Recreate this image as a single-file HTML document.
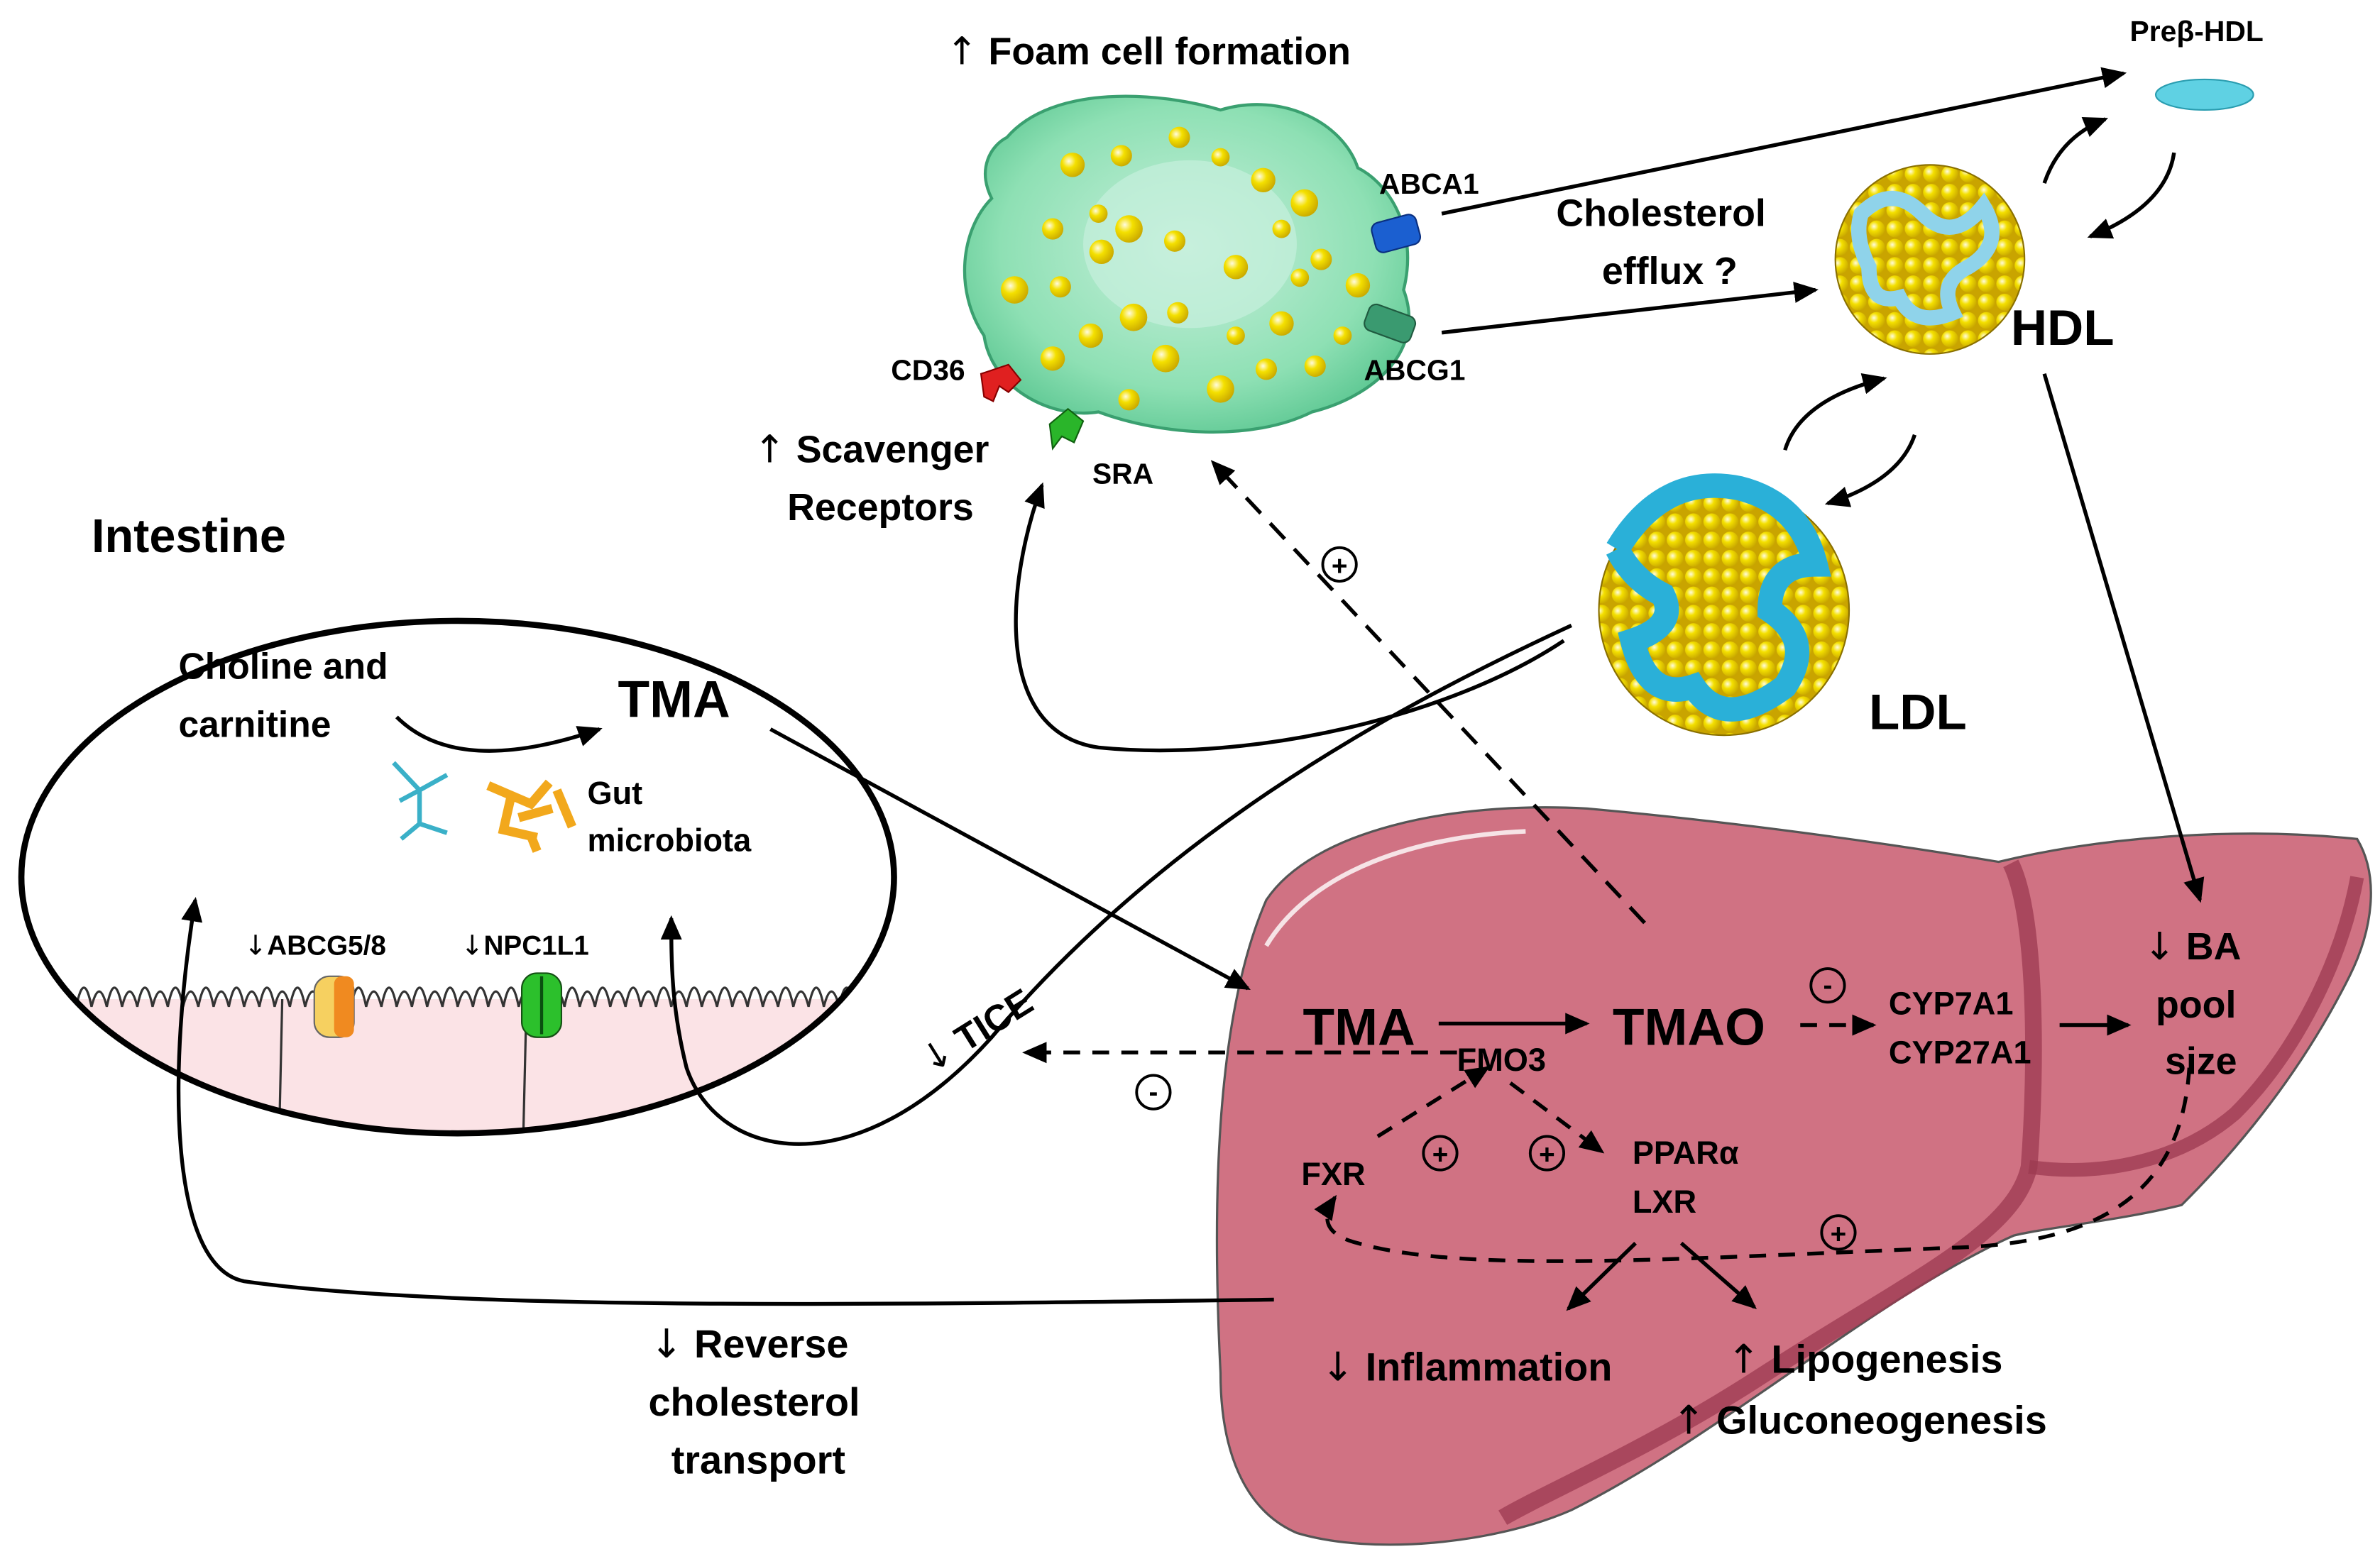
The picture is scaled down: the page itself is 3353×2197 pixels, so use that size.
<!DOCTYPE html>
<html><head><meta charset="utf-8"><style>
html,body{margin:0;padding:0;background:#fff;}
svg{display:block;}
text{font-family:"Liberation Sans",sans-serif;font-weight:bold;fill:#000;}
.ar{font-family:"DejaVu Sans",sans-serif;font-weight:normal;}
</style></head><body>
<svg width="3353" height="2197" viewBox="0 0 1560 1022" xmlns="http://www.w3.org/2000/svg">
<defs>
<marker id="a" markerWidth="16" markerHeight="14" refX="14" refY="7" orient="auto" markerUnits="userSpaceOnUse"><path d="M0,0 L16,7 L0,14 z" fill="#000"/></marker>
<radialGradient id="yb" cx="0.35" cy="0.35" r="0.7"><stop offset="0" stop-color="#fffbe0"/><stop offset="0.4" stop-color="#f4e000"/><stop offset="1" stop-color="#c9a800"/></radialGradient>
<radialGradient id="gc" cx="0.5" cy="0.45" r="0.6"><stop offset="0" stop-color="#c8f0dc"/><stop offset="0.7" stop-color="#8ee0b4"/><stop offset="1" stop-color="#5cc792"/></radialGradient>
<pattern id="gold" width="12" height="12" patternUnits="userSpaceOnUse"><rect width="12" height="12" fill="#c9a400"/><circle cx="6" cy="6" r="5.5" fill="url(#yb)"/></pattern>
</defs>

<!-- Liver (drawn first) -->
<path d="M830,590 C860,545 950,525 1040,530 C1150,540 1250,555 1310,565 C1380,548 1470,542 1545,550 C1560,575 1555,610 1540,640 C1510,700 1470,750 1430,790 C1390,800 1340,805 1320,810 C1230,850 1130,940 1030,990 C980,1012 900,1020 850,1005 C815,990 800,950 800,900 C795,800 795,670 830,590 Z" fill="#d07283" stroke="#555" stroke-width="1.5"/>
<path d="M1318,566 C1335,600 1335,700 1330,765 C1320,810 1250,840 1150,905 C1080,950 1010,980 985,995" fill="none" stroke="#9c3a50" stroke-width="11" opacity="0.75"/>
<path d="M1330,765 C1380,772 1430,760 1465,730 C1505,690 1535,630 1545,575" fill="none" stroke="#9c3a50" stroke-width="9" opacity="0.75"/>
<path d="M830,620 C860,570 930,548 1000,545" fill="none" stroke="#fff" stroke-width="3" opacity="0.8"/>

<!-- Foam cell -->
<path d="M660,90 C690,55 760,60 800,72 C840,60 880,80 890,110 C910,120 930,150 920,190 C935,230 900,260 860,270 C820,290 760,285 720,270 C690,275 650,255 645,220 C625,190 630,150 650,130 C640,110 650,95 660,90 Z" fill="url(#gc)" stroke="#3aa070" stroke-width="2"/>
<ellipse cx="780" cy="160" rx="70" ry="55" fill="#c6f0dd" opacity="0.7"/>
<g fill="url(#yb)">
<circle cx="703" cy="108" r="8"/><circle cx="735" cy="102" r="7"/><circle cx="773" cy="90" r="7"/><circle cx="800" cy="103" r="6"/><circle cx="828" cy="118" r="8"/><circle cx="855" cy="133" r="9"/><circle cx="690" cy="150" r="7"/><circle cx="720" cy="140" r="6"/><circle cx="740" cy="150" r="9"/><circle cx="722" cy="165" r="8"/><circle cx="770" cy="158" r="7"/><circle cx="810" cy="175" r="8"/><circle cx="840" cy="150" r="6"/><circle cx="866" cy="170" r="7"/><circle cx="852" cy="182" r="6"/><circle cx="890" cy="187" r="8"/><circle cx="665" cy="190" r="9"/><circle cx="695" cy="188" r="7"/><circle cx="743" cy="208" r="9"/><circle cx="772" cy="205" r="7"/><circle cx="715" cy="220" r="8"/><circle cx="840" cy="212" r="8"/><circle cx="810" cy="220" r="6"/><circle cx="690" cy="235" r="8"/><circle cx="764" cy="235" r="9"/><circle cx="800" cy="255" r="9"/><circle cx="830" cy="242" r="7"/><circle cx="880" cy="220" r="6"/><circle cx="740" cy="262" r="7"/><circle cx="862" cy="240" r="7"/>
</g>
<rect x="900" y="143" width="30" height="20" rx="5" fill="#1b5fd0" stroke="#0a2f80" transform="rotate(-15 915 153)"/>
<rect x="895" y="203" width="32" height="18" rx="5" fill="#3a9a70" stroke="#205a40" transform="rotate(20 911 212)"/>
<path d="M643,245 l18,-6 l8,10 l-8,8 l-6,-4 l-4,10 l-6,-3 z" fill="#e02020" stroke="#800"/>
<path d="M688,278 l12,-10 l10,8 l-6,14 l-8,-4 l-6,8 z" fill="#2ab52a" stroke="#106010"/>

<text x="620" y="42" font-size="25"><tspan class="ar">↑</tspan> Foam cell formation</text>
<text x="904" y="127" font-size="19">ABCA1</text>
<text x="894" y="249" font-size="19">ABCG1</text>
<text x="584" y="249" font-size="19">CD36</text>
<text x="716" y="317" font-size="19">SRA</text>
<text x="494" y="303" font-size="25"><tspan class="ar">↑</tspan> Scavenger</text>
<text x="516" y="341" font-size="25">Receptors</text>

<text x="1396" y="27" font-size="19">Preβ-HDL</text>
<ellipse cx="1445" cy="62" rx="32" ry="10" fill="#5fd1e3" stroke="#2a9db0"/>
<circle cx="1265" cy="170" r="62" fill="url(#gold)" stroke="#8a7000"/>
<path d="M1220,140 q20,-20 40,0 q20,20 40,-5 q15,25 -10,40 q-20,10 -10,30 q-25,10 -35,-10 q-20,5 -20,-20 q-10,-20 -5,-35z" fill="none" stroke="#8fd3ea" stroke-width="10"/>
<text x="1318" y="226" font-size="33">HDL</text>
<circle cx="1130" cy="400" r="82" fill="url(#gold)" stroke="#8a7000"/>
<path d="M1060,360 q30,-50 80,-40 q40,10 50,50 q-30,0 -30,30 q30,20 10,50 q-40,30 -60,0 q-30,10 -40,-30 q30,-10 20,-30 q-20,-10 -30,-30" fill="none" stroke="#2ab0d8" stroke-width="16"/>
<text x="1225" y="478" font-size="33">LDL</text>

<text x="1020" y="148" font-size="25">Cholesterol</text>
<text x="1050" y="186" font-size="25">efflux ?</text>

<text x="854" y="685" font-size="34">TMA</text>
<text x="1057" y="685" font-size="34">TMAO</text>
<text x="955" y="702" font-size="21">FMO3</text>
<text x="1238" y="665" font-size="21">CYP7A1</text>
<text x="1238" y="697" font-size="21">CYP27A1</text>
<text x="1405" y="629" font-size="25"><tspan class="ar">↓</tspan> BA</text>
<text x="1413" y="667" font-size="25">pool</text>
<text x="1419" y="704" font-size="25">size</text>
<text x="853" y="777" font-size="21">FXR</text>
<text x="1070" y="763" font-size="21">PPARα</text>
<text x="1070" y="795" font-size="21">LXR</text>
<text x="866" y="905" font-size="26"><tspan class="ar">↓</tspan> Inflammation</text>
<text x="1132" y="900" font-size="26"><tspan class="ar">↑</tspan> Lipogenesis</text>
<text x="1096" y="940" font-size="26"><tspan class="ar">↑</tspan> Gluconeogenesis</text>

<g stroke="#000" stroke-width="2.5" fill="none">
<line x1="945" y1="140" x2="1392" y2="48" marker-end="url(#a)"/>
<line x1="945" y1="218" x2="1190" y2="190" marker-end="url(#a)"/>
<path d="M1340,120 Q1350,90 1380,78" marker-end="url(#a)"/>
<path d="M1425,100 Q1420,135 1370,155" marker-end="url(#a)"/>
<path d="M1170,295 Q1180,262 1235,248" marker-end="url(#a)"/>
<path d="M1255,285 Q1245,315 1198,330" marker-end="url(#a)"/>
<line x1="1340" y1="245" x2="1442" y2="590" marker-end="url(#a)"/>
<path d="M1025,420 C950,470 820,500 720,490 C650,480 660,380 683,318" marker-end="url(#a)"/>
<line x1="943" y1="671" x2="1040" y2="671" marker-end="url(#a)"/>
<line x1="1350" y1="672" x2="1395" y2="672" marker-end="url(#a)"/>
<line x1="1072" y1="815" x2="1028" y2="858" marker-end="url(#a)"/>
<line x1="1102" y1="815" x2="1150" y2="857" marker-end="url(#a)"/>
</g>
<line x1="1078" y1="605" x2="795" y2="303" stroke="#000" stroke-width="2.5" stroke-dasharray="14,9" marker-end="url(#a)"/>
<circle cx="878" cy="370" r="11" fill="none" stroke="#000" stroke-width="1.8"/>
<g stroke="#000" stroke-width="2.5" fill="none" stroke-dasharray="11,8">
<line x1="1180" y1="672" x2="1228" y2="672" marker-end="url(#a)"/>
<line x1="955" y1="690" x2="672" y2="690" marker-end="url(#a)"/>
<line x1="903" y1="745" x2="975" y2="700" marker-end="url(#a)"/>
<line x1="990" y1="710" x2="1050" y2="755" marker-end="url(#a)"/>
<path d="M1435,700 C1430,780 1380,815 1280,818 C1100,825 960,835 890,815 C870,810 865,800 875,785" marker-end="url(#a)"/>
</g>
<g fill="none" stroke="#000" stroke-width="1.8">
<circle cx="944" cy="756" r="11"/><circle cx="1014" cy="756" r="11"/><circle cx="1205" cy="808" r="11"/><circle cx="1198" cy="646" r="11"/><circle cx="756" cy="716" r="11"/>
</g>
<g font-size="18" font-weight="normal" text-anchor="middle">
<text x="878" y="377">+</text><text x="944" y="763">+</text><text x="1014" y="763">+</text><text x="1205" y="815">+</text><text x="1198" y="652">-</text><text x="756" y="722">-</text>
</g>

<!-- Intestine -->
<text x="60" y="362" font-size="31">Intestine</text>
<clipPath id="ic"><ellipse cx="300" cy="575" rx="286" ry="168"/></clipPath>
<g clip-path="url(#ic)">
<rect x="0" y="655" width="600" height="100" fill="#fbe3e6"/>
<path d="M10,660 q5,-20 10,0 q5,-20 10,0 q5,-25 10,0 q5,-20 10,0 q5,-25 10,0 q5,-20 10,0 q5,-25 10,0 q5,-20 10,0 q5,-25 10,0 q5,-20 10,0 q5,-25 10,0 q5,-20 10,0 q5,-25 10,0 q5,-20 10,0 q5,-25 10,0 q5,-20 10,0 q5,-25 10,0 q5,-20 10,0 q5,-25 10,0 q5,-20 10,0 q5,-25 10,0 q5,-20 10,0 q5,-25 10,0 q5,-20 10,0 q5,-25 10,0 q5,-20 10,0 q5,-25 10,0 q5,-20 10,0 q5,-25 10,0 q5,-20 10,0 q5,-25 10,0 q5,-20 10,0 q5,-25 10,0 q5,-20 10,0 q5,-25 10,0 q5,-20 10,0 q5,-25 10,0 q5,-20 10,0 q5,-25 10,0 q5,-20 10,0 q5,-25 10,0 q5,-20 10,0 q5,-25 10,0 q5,-20 10,0 q5,-25 10,0 q5,-20 10,0 q5,-25 10,0 q5,-20 10,0 q5,-25 10,0 q5,-20 10,0 q5,-25 10,0 q5,-20 10,0 q5,-25 10,0 q5,-20 10,0 q5,-25 10,0 q5,-20 10,0 q5,-25 10,0 q5,-20 10,0" fill="none" stroke="#333" stroke-width="1.5"/>
<line x1="185" y1="655" x2="183" y2="745" stroke="#333" stroke-width="1.5"/>
<line x1="345" y1="660" x2="343" y2="745" stroke="#333" stroke-width="1.5"/>
</g>
<ellipse cx="300" cy="575" rx="286" ry="168" fill="none" stroke="#000" stroke-width="4"/>
<rect x="206" y="640" width="26" height="40" rx="10" fill="#f6d060" stroke="#666"/>
<rect x="219" y="640" width="13" height="40" rx="5" fill="#f08a20"/>
<rect x="342" y="638" width="26" height="42" rx="10" fill="#2cc02c" stroke="#155015"/>
<line x1="355" y1="640" x2="355" y2="678" stroke="#0a5010" stroke-width="2"/>
<text x="160" y="626" font-size="18"><tspan class="ar">↓</tspan>ABCG5/8</text>
<text x="302" y="626" font-size="18"><tspan class="ar">↓</tspan>NPC1L1</text>
<text x="117" y="445" font-size="24">Choline and</text>
<text x="117" y="483" font-size="24">carnitine</text>
<text x="405" y="470" font-size="34">TMA</text>
<text x="385" y="527" font-size="21">Gut</text>
<text x="385" y="558" font-size="21">microbiota</text>
<g stroke="#3ab0c8" stroke-width="3" fill="none"><path d="M258,500 l17,18 l18,-10 M275,518 l0,22 l-12,10 M275,540 l18,6 M262,525 l13,-7"/></g>
<g stroke="#f2a81c" stroke-width="6" fill="none"><path d="M320,515 l28,12 l12,-14 M335,522 l-5,22 l22,5 M340,536 l22,-6 M365,518 l10,24 M348,548 l4,10"/></g>

<g stroke="#000" stroke-width="2.5" fill="none">
<path d="M260,470 Q300,510 393,478" marker-end="url(#a)"/>
<line x1="505" y1="478" x2="818" y2="648" marker-end="url(#a)"/>
<path d="M1030,410 C900,470 760,550 650,680 C560,780 470,760 450,700 C440,660 440,630 440,602" marker-end="url(#a)"/>
<path d="M835,852 C600,855 300,860 160,840 C110,830 110,700 128,590" marker-end="url(#a)"/>
</g>
<text x="600" y="690" font-size="24" transform="rotate(-32 630 680)"><tspan class="ar">↓</tspan> TICE</text>
<text x="426" y="890" font-size="26"><tspan class="ar">↓</tspan> Reverse</text>
<text x="425" y="928" font-size="26">cholesterol</text>
<text x="440" y="966" font-size="26">transport</text>
</svg>
</body></html>
